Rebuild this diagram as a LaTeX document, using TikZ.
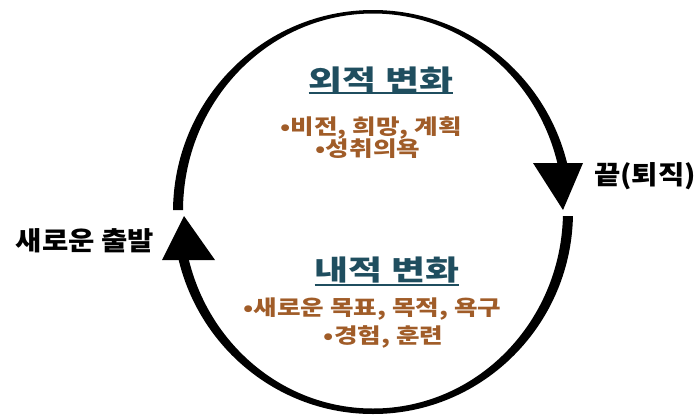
\documentclass[tikz,border=0pt]{standalone}
\usepackage{fontspec}
\setmainfont{Noto Sans CJK KR}
\newfontfamily\titlefont{Noto Sans CJK KR}[FakeStretch=1.32]
\newfontfamily\itemfont{Noto Sans CJK KR}[FakeStretch=1.22]
\newfontfamily\labelfont{Noto Sans CJK KR}[FakeStretch=1.1]
\definecolor{titleteal}{RGB}{31,78,95}
\definecolor{itembrown}{RGB}{160,92,40}
\begin{document}
\begin{tikzpicture}[x=1pt,y=-1pt,
  title/.style={font=\titlefont\fontsize{28}{30}\selectfont\bfseries, text=titleteal, inner sep=0pt, anchor=center},
  item/.style={font=\itemfont\fontsize{21}{23}\selectfont\bfseries, text=itembrown, inner sep=0pt, anchor=center},
  label/.style={font=\labelfont\fontsize{26}{28}\selectfont\bfseries, text=black, inner sep=0pt, anchor=center},
  uline/.style={draw=titleteal, line width=2pt}]
\useasboundingbox (0,0) rectangle (697,416);
% ring arcs
\begin{scope}
  \clip (0,0) rectangle (373,210) (0,255) rectangle (373,416)
        (373,0) rectangle (697,170) (373,216) rectangle (697,416);
  \fill[black, even odd rule] (373,212) ellipse [x radius=200, y radius=202]
                              (373,211) ellipse [x radius=190, y radius=197.5];
\end{scope}
% arrowheads
\coordinate (rA) at (533,163); \coordinate (rB) at (583,163); \coordinate (rT) at (563,210);
\coordinate (lA) at (162,260); \coordinate (lB) at (215,260); \coordinate (lT) at (184,216);
\fill[black] (rA) -- (rB) -- (rT) -- cycle;
\fill[black] (lA) -- (lB) -- (lT) -- cycle;
% texts
\node[title] (t1) at (381,80) {외적 변화};
\draw[uline] (t1.west |- 0,93) -- (t1.east |- 0,93);
\node[item] (a1) at (371,127.5) {•비전, 희망, 계획};
\node[item] (a2) at (368,148.5) {•성취의욕};
\node[title] (t2) at (387,270) {내적 변화};
\draw[uline] (t2.west |- 0,285) -- (t2.east |- 0,285);
\node[item] (b1) at (372.5,309) {•새로운 목표, 목적, 욕구};
\node[item] (b2) at (383.5,337) {•경험, 훈련};
\node[label] (start) at (85,240.5) {새로운 출발};
\node[label] (end) at (645,176.5) {끝(퇴직)};
\end{tikzpicture}
\end{document}
